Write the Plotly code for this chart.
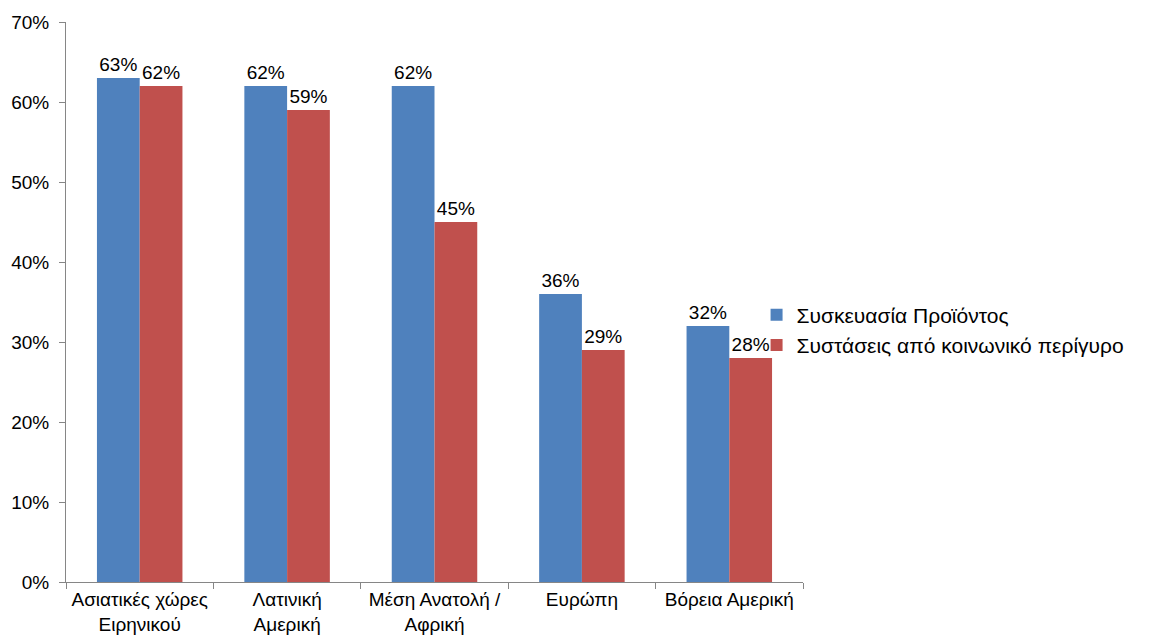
import plotly.graph_objects as go

categories = ["Ασιατικές χώρες<br>Ειρηνικού", "Λατινική<br>Αμερική", "Μέση Ανατολή /<br>Αφρική", "Ευρώπη", "Βόρεια Αμερική"]
series1_name = "Συσκευασία Προϊόντος"
series1 = [63, 62, 62, 36, 32]
series2_name = "Συστάσεις από κοινωνικό περίγυρο"
series2 = [62, 59, 45, 29, 28]
y_ticks = [0, 10, 20, 30, 40, 50, 60, 70]

FONT = "Liberation Sans, Arial, sans-serif"
FS = 19

fig = go.Figure()
fig.add_trace(go.Bar(x=categories, y=series1, name=series1_name, marker_color="#4F81BD",
                     marker_line_width=0,
                     text=[f"{v}%" for v in series1], textposition="outside", cliponaxis=False,
                     textfont=dict(size=FS, color="#000000", family=FONT)))
fig.add_trace(go.Bar(x=categories, y=series2, name=series2_name, marker_color="#C0504D",
                     marker_line_width=0,
                     text=[f"{v}%" for v in series2], textposition="outside", cliponaxis=False,
                     textfont=dict(size=FS, color="#000000", family=FONT)))

fig.update_layout(
    width=1158, height=639,
    margin=dict(l=66, r=355, t=22, b=57, autoexpand=False),
    paper_bgcolor="white", plot_bgcolor="white",
    barmode="group", bargap=0.42, bargroupgap=0,
    font=dict(family=FONT, size=FS, color="#000000"),
    showlegend=True,
    legend=dict(x=0.937, y=0.45, xanchor="left", yanchor="middle",
                bgcolor="rgba(0,0,0,0)",
                font=dict(size=21, family=FONT), itemwidth=30, tracegroupgap=0),
    uniformtext=dict(mode=False),
)
fig.update_xaxes(showline=True, linecolor="#868686", linewidth=1, ticks="outside",
                 tickson="boundaries", ticklen=6, tickcolor="#868686", automargin=False,
                 tickfont=dict(size=FS, family=FONT), showgrid=False)
fig.update_yaxes(range=[0, 70], tickvals=y_ticks, ticktext=[f"{v}%" for v in y_ticks],
                 showline=True, linecolor="#868686", linewidth=1, ticks="outside",
                 ticklen=6, tickcolor="#868686", showgrid=False, zeroline=False,
                 ticklabelstandoff=6, automargin=False,
                 tickfont=dict(size=FS, family=FONT))

fig.write_html("out.html")
